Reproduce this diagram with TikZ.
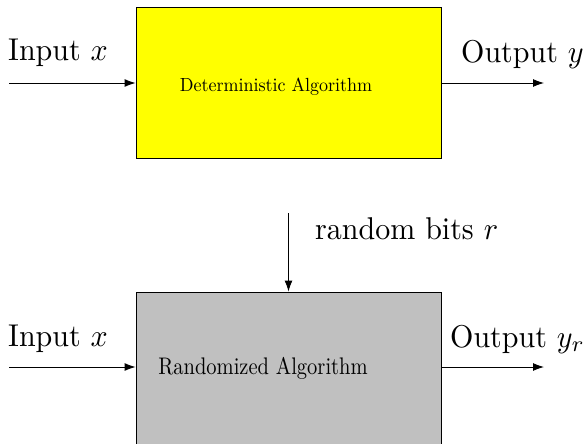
\documentclass[tikz,border=0pt]{standalone}
\usepackage{graphicx}
\usetikzlibrary{arrows.meta}
\definecolor{detyellow}{RGB}{255,255,0}
\definecolor{randgray}{RGB}{192,192,192}
\begin{document}
\begin{tikzpicture}[x=1pt,y=1pt,
  algbox/.style={draw=black,line width=0.9pt,minimum width=305pt,inner sep=0pt},
  conn/.style={line width=0.9pt,-{Latex[length=11pt,width=8pt]}},
  txt/.style={inner sep=0pt},
]
\useasboundingbox (0,0) rectangle (586,-444);
\clip (0,0) rectangle (586,-444);
% boxes
\node[algbox,fill=detyellow,minimum height=151pt] (det) at (288.5,-82.5) {};
\node[algbox,fill=randgray,minimum height=170pt] (rand) at (288.5,-377) {};
% texts
\node[txt,anchor=base west] (inx1) at (8,-60) {\scalebox{3}[3.15]{Input $x$}};
\node[txt,anchor=base west] (outy1) at (461,-63) {\scalebox{3}[3.15]{Output $y$}};
\node[txt,anchor=base] (dettext) at (276,-92) {\scalebox{1.8}[1.9]{Deterministic Algorithm}};
\node[txt,anchor=base west] (rbits) at (315,-239) {\scalebox{3}[3.15]{random bits $r$}};
\node[txt,anchor=base west] (inx2) at (8,-346) {\scalebox{3}[3.15]{Input $x$}};
\node[txt,anchor=base west] (outy2) at (450,-347) {\scalebox{3}[3.15]{Output $y_r$}};
\node[txt,anchor=base] (randtext) at (263,-374) {\scalebox{2.05}[2.4]{Randomized Algorithm}};
% connector ends
\coordinate (in1) at (9,-83);
\coordinate (out1) at (544,-83);
\coordinate (rtop) at (288.5,-213);
\coordinate (in2) at (9,-367);
\coordinate (out2) at (544,-367);
% connectors
\draw[conn] (in1) -- (det.west |- in1);
\draw[conn] (det.east |- out1) -- (out1);
\draw[conn] (rtop) -- (rand.north);
\draw[conn] (in2) -- (rand.west |- in2);
\draw[conn] (rand.east |- out2) -- (out2);
\end{tikzpicture}
\end{document}
